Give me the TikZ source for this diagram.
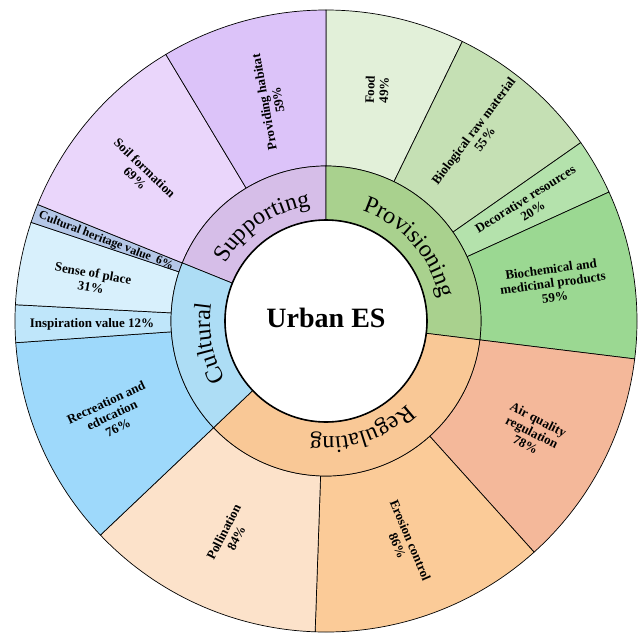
\documentclass[tikz,border=0pt]{standalone}
\usepackage{fontspec}
\setmainfont{Liberation Serif}
\usetikzlibrary{decorations.text}

% ring colours
\definecolor{suppc}{RGB}{214,190,232}
\definecolor{provc}{RGB}{169,209,142}
\definecolor{regc}{RGB}{249,200,150}
\definecolor{cultc}{RGB}{173,221,245}
% segment colours
\definecolor{habitatc}{RGB}{220,195,249}
\definecolor{soilc}{RGB}{234,214,251}
\definecolor{foodc}{RGB}{226,240,217}
\definecolor{rawc}{RGB}{197,224,180}
\definecolor{decoc}{RGB}{180,226,172}
\definecolor{biochemc}{RGB}{155,216,146}
\definecolor{airc}{RGB}{244,184,154}
\definecolor{erosionc}{RGB}{251,203,152}
\definecolor{pollc}{RGB}{252,226,202}
\definecolor{recc}{RGB}{158,217,251}
\definecolor{inspc}{RGB}{191,230,250}
\definecolor{sensec}{RGB}{216,240,252}
\definecolor{heritc}{RGB}{180,199,231}

\def\rin{101pt}
\def\rring{155pt}
\def\rout{311pt}
\def\rtext{116pt}

\newcommand{\catfont}{\fontsize{24}{24}\selectfont}
% wedge: start angle, end angle, inner radius, outer radius, colour
\newcommand{\wedgepart}[5]{%
  \filldraw[seg,fill=#5] (#1:#3) arc[start angle=#1,end angle=#2,radius=#3]
    -- (#2:#4) arc[start angle=#2,end angle=#1,radius=#4] -- cycle;}

\begin{document}
\begin{tikzpicture}[x=1pt,y=1pt,
    seg/.style={draw=black,line width=0.7pt},
    lab/.style={font=\bfseries\fontsize{13}{14}\selectfont,align=center,inner sep=0pt},
    cat/.style={decorate,decoration={text along path,text align=center,text={|\catfont|#1}}}]
    \useasboundingbox (-326,-314) rectangle (313,321);
        % outer ring
        \foreach \a/\b/\c in {90/64/foodc,64/35/rawc,35/24.5/decoc,24.5/-7/biochemc,
            -7/-48/airc,-48/-92/erosionc,-92/-136.5/pollc,
            223.5/184/recc,184/177/inspc,177/161.5/sensec,161.5/158/heritc,
            158/121/soilc,121/90/habitatc}
            \wedgepart{\a}{\b}{\rring}{\rout}{\c};
        % inner ring
        \wedgepart{158}{90}{\rin}{\rring}{suppc}
        \wedgepart{90}{-7}{\rin}{\rring}{provc}
        \wedgepart{-7}{-136.5}{\rin}{\rring}{regc}
        \wedgepart{223.5}{158}{\rin}{\rring}{cultc}
        % centre
        \filldraw[fill=white,draw=black,line width=1.6pt] (0,0) circle (\rin);
        \node[font=\bfseries\fontsize{28}{28}\selectfont] (urban) at (0,3) {Urban ES};
        % category labels
        \path[cat=Supporting] (158:\rtext) arc[start angle=158,end angle=90,radius=\rtext];
        \path[cat=Provisioning] (90:\rtext) arc[start angle=90,end angle=-7,radius=\rtext];
        \path[cat=Regulating] (-7:\rtext) arc[start angle=-7,end angle=-136.5,radius=\rtext];
        \path[cat=Cultural] (223.5:\rtext) arc[start angle=223.5,end angle=158,radius=\rtext];
        % segment labels
        \node[lab,rotate=88] (food) at (51,231) {Food\\49\%};
        \node[lab,rotate=53] (raw) at (153,186) {Biological raw material\\55\%};
        \node[lab,rotate=32] (deco) at (203,116) {Decorative resources\\20\%};
        \node[lab,rotate=8] (biochem) at (227,38) {Biochemical and\\medicinal products\\59\%};
        \node[lab,rotate=-27] (air) at (206,-111) {Air quality\\regulation\\78\%};
        \node[lab,rotate=-67] (erosion) at (78,-222) {Erosion control\\86\%};
        \node[lab,rotate=63] (poll) at (-96,-214) {Pollination\\84\%};
        \node[lab,rotate=25] (rec) at (-214,-94) {Recreation and\\education\\76\%};
        \node[lab] (insp) at (-234,-3) {Inspiration value 12\%};
        \node[lab,rotate=-10] (sense) at (-234,41) {Sense of place\\31\%};
        \node[lab,rotate=-21,font=\bfseries\fontsize{12}{12}\selectfont] (herit) at (-220,80) {Cultural heritage value\ \ 6\%};
        \node[lab,rotate=-44] (soil) at (-186,148) {Soil formation\\69\%};
        \node[lab,rotate=100] (habitat) at (-55,220) {Providing habitat\\59\%};
    \end{tikzpicture}
\end{document}
